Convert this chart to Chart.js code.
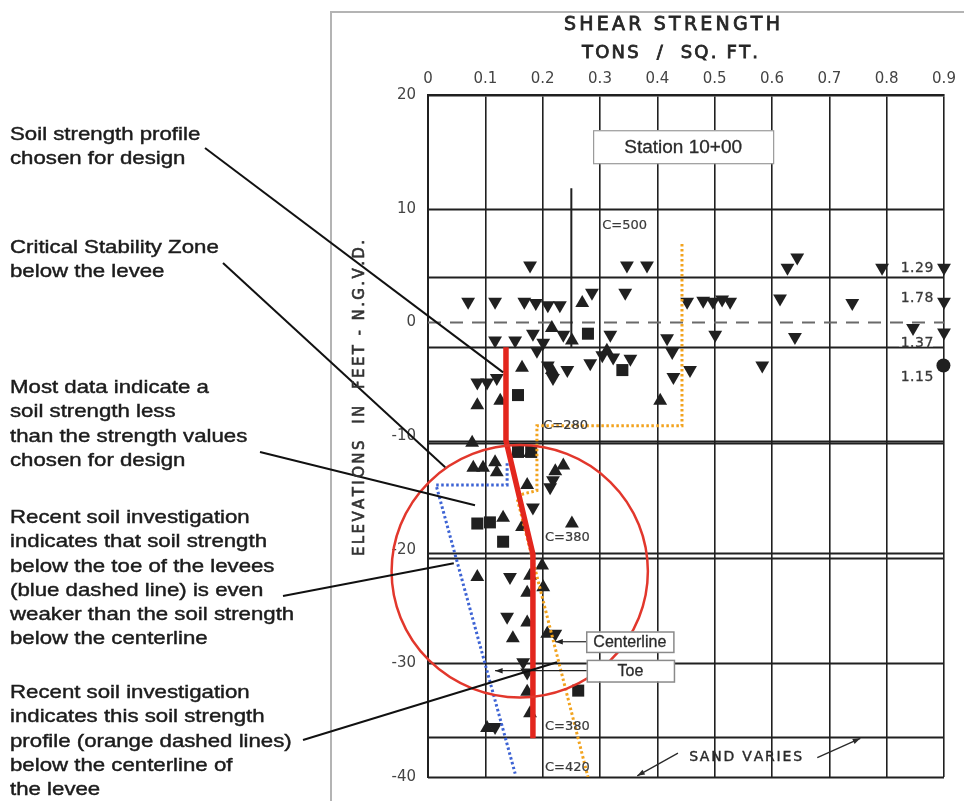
<!DOCTYPE html>
<html>
<head>
<meta charset="utf-8">
<title>Shear Strength - Station 10+00</title>
<script src="https://cdn.jsdelivr.net/npm/chart.js@4.4.1/dist/chart.umd.min.js"></script>
<style>
  html, body { margin: 0; padding: 0; background: #ffffff; }
  #wrap { position: relative; width: 964px; height: 801px; }
</style>
</head>
<body>
<div id="wrap"><canvas id="chart" width="964" height="801"></canvas></div>
<script>
// ---- axis ticks ----
const xTickValues = [0, 0.1, 0.2, 0.3, 0.4, 0.5, 0.6, 0.7, 0.8, 0.9];
const xTickLabels = ['0', '0.1', '0.2', '0.3', '0.4', '0.5', '0.6', '0.7', '0.8', '0.9'];
const yTickValues = [20, 10, 0, -10, -20, -30, -40];
const yTickLabels = ['20', '10', '0', '-10', '-20', '-30', '-40'];

// ---- test results: [shear strength (tons/sq ft), elevation (ft)] ----
const downTriangles = [
  [0.178, 5.0], [0.070, 1.8], [0.117, 1.8], [0.168, 1.8], [0.188, 1.7], [0.209, 1.5], [0.230, 1.5],
  [0.286, 2.6], [0.344, 2.6], [0.347, 5.0], [0.382, 5.0], [0.452, 1.8], [0.480, 1.9], [0.497, 1.8],
  [0.513, 2.0], [0.527, 1.8], [0.614, 2.1], [0.627, 4.8], [0.644, 5.7], [0.740, 1.7], [0.792, 4.8],
  [0.900, 4.8], [0.900, 1.8], [0.846, -0.5], [0.900, -0.9], [0.117, -1.6], [0.152, -1.6], [0.183, -1.0],
  [0.201, -1.8], [0.236, -1.1], [0.318, -1.1], [0.417, -1.4], [0.426, -2.6], [0.501, -1.1], [0.640, -1.3],
  [0.283, -3.6], [0.304, -2.9], [0.323, -3.1], [0.353, -3.2], [0.218, -4.9], [0.243, -4.2], [0.209, -3.8],
  [0.190, -2.5], [0.428, -4.8], [0.457, -4.2], [0.583, -3.8], [0.086, -5.3], [0.103, -5.3], [0.120, -4.9],
  [0.218, -13.9], [0.213, -14.5], [0.183, -16.3], [0.143, -22.4], [0.138, -25.9], [0.222, -27.4],
  [0.166, -29.9], [0.173, -30.8], [0.117, -35.6]
];
const upTriangles = [
  [0.269, 1.7], [0.216, -0.5], [0.251, -1.6], [0.312, -2.5], [0.216, -4.2], [0.164, -4.0], [0.126, -6.9],
  [0.086, -7.3], [0.405, -6.9], [0.077, -10.6], [0.178, -11.5], [0.079, -12.8], [0.096, -12.8],
  [0.117, -12.3], [0.120, -13.2], [0.236, -12.6], [0.222, -13.1], [0.173, -14.3], [0.131, -17.2],
  [0.164, -18.0], [0.251, -17.7], [0.199, -21.4], [0.178, -22.3], [0.086, -22.4], [0.173, -23.8],
  [0.201, -23.3], [0.173, -26.4], [0.148, -27.8], [0.208, -27.4], [0.173, -32.5], [0.178, -34.4],
  [0.103, -35.7]
];
const squares = [
  [0.279, -1.0], [0.339, -4.2], [0.157, -6.4], [0.157, -11.4], [0.180, -11.4], [0.086, -17.7],
  [0.108, -17.6], [0.131, -19.3], [0.262, -32.4]
];
const circles = [[0.899, -3.8]];

// ---- strength profiles ----
const designProfile = [[0.136, -2.2], [0.136, -10.4], [0.183, -20.4], [0.183, -36.6]];
const centerlineProfile = [[0.443, 6.9], [0.443, -9.1], [0.190, -9.1], [0.190, -14.8], [0.166, -15.1], [0.155, -15.4], [0.279, -40.0]];
const toeProfile = [[0.138, -12.4], [0.138, -14.3], [0.014, -14.3], [0.152, -39.7]];
const testLine = [[0.25, 11.8], [0.25, -2.2]];

// ---- soil layer boundaries and water level (ft) ----
const strataElevations = [10, 3.96, -2.2, -10.4, -10.65, -20.3, -20.7, -30, -36.5, -40];
const waterLevel = 0;

// ---- off-scale strengths listed at the right edge ----
const offScaleValues = ['1.29', '1.78', '1.37', '1.15'];
const offScaleElevations = [4.75, 2.1, -1.85, -4.85];

// ---- cohesion notes ----
const cohesionNotes = ['C=500', 'C=280', 'C=380', 'C=380', 'C=420'];
const cohesionAnchors = [[0.304, 8.5], [0.201, -9.06], [0.204, -18.9], [0.204, -35.6], [0.204, -39.2]];

// ---- critical stability zone (center strength, center elevation) ----
const zoneCenter = [0.160, -21.9];
const zoneRadiusX = 0.2235;   // tons/sq ft
const zoneRadiusY = 11.1;     // ft

const toXY = arr => arr.map(p => ({ x: p[0], y: p[1] }));

const INK = '#202020';
const LETTER_FONT = '"DejaVu Sans", sans-serif';
const NOTE_FONT = '"Liberation Sans", Arial, sans-serif';

// text drawn with a fine outline so hand-lettered strokes read heavier
function heavyFill(ctx, text, x, y, weight) {
  ctx.fillText(text, x, y);
  if (weight > 0) {
    ctx.lineWidth = weight;
    ctx.strokeStyle = ctx.fillStyle;
    ctx.strokeText(text, x, y);
  }
}

function spacedText(ctx, text, cx, cy, spacing, weight) {
  let total = 0;
  const widths = [];
  for (const ch of text) { const w = ctx.measureText(ch).width; widths.push(w); total += w + spacing; }
  total -= spacing;
  let x = cx - total / 2;
  let i = 0;
  ctx.textAlign = 'left';
  for (const ch of text) { heavyFill(ctx, ch, x, cy, weight || 0); x += widths[i++] + spacing; }
}

function stretchedText(ctx, text, x, y, sx, weight) {
  ctx.save();
  ctx.translate(x, y);
  ctx.scale(sx, 1);
  heavyFill(ctx, text, 0, 0, weight || 0);
  ctx.restore();
}

function arrow(ctx, x1, y1, x2, y2, head) {
  ctx.beginPath();
  ctx.moveTo(x1, y1);
  ctx.lineTo(x2, y2);
  ctx.stroke();
  const a = Math.atan2(y2 - y1, x2 - x1);
  ctx.beginPath();
  ctx.moveTo(x2, y2);
  ctx.lineTo(x2 - head * Math.cos(a - 0.35), y2 - head * Math.sin(a - 0.35));
  ctx.lineTo(x2 - head * Math.cos(a + 0.35), y2 - head * Math.sin(a + 0.35));
  ctx.closePath();
  ctx.fill();
}

// background grid work: panel frame, layer boundaries, water line
const layerPlugin = {
  id: 'layers',
  beforeDraw(chart) {
    const ctx = chart.ctx;
    ctx.save();
    ctx.fillStyle = '#ffffff';
    ctx.fillRect(0, 0, chart.width, chart.height);
    ctx.strokeStyle = '#b4b4b4';
    ctx.lineWidth = 2;
    ctx.beginPath();
    ctx.moveTo(331, chart.height);
    ctx.lineTo(331, 12);
    ctx.lineTo(chart.width, 12);
    ctx.stroke();
    ctx.restore();
  },
  beforeDatasetsDraw(chart) {
    const ctx = chart.ctx;
    const xs = chart.scales.x, ys = chart.scales.y;
    const x0 = xs.getPixelForValue(0), x1 = xs.getPixelForValue(0.9);
    ctx.save();
    ctx.strokeStyle = INK;
    ctx.lineWidth = 2;
    strataElevations.forEach(e => {
      const y = Math.round(ys.getPixelForValue(e)) + 0.5;
      ctx.beginPath();
      ctx.moveTo(x0, y);
      ctx.lineTo(x1, y);
      ctx.stroke();
    });
    const yw = Math.round(ys.getPixelForValue(waterLevel)) + 0.5;
    ctx.strokeStyle = '#6a6a6a';
    ctx.lineWidth = 2;
    ctx.setLineDash([13, 9]);
    ctx.beginPath();
    ctx.moveTo(x0, yw);
    ctx.lineTo(x1, yw);
    ctx.stroke();
    ctx.restore();
  }
};

// notes, leaders, zone outline and titles
const notesPlugin = {
  id: 'notes',
  afterDatasetsDraw(chart) {
    const ctx = chart.ctx;
    const xs = chart.scales.x, ys = chart.scales.y;
    const px = v => xs.getPixelForValue(v);
    const py = v => ys.getPixelForValue(v);
    ctx.save();

    // critical stability zone
    ctx.strokeStyle = '#e2372c';
    ctx.lineWidth = 2.5;
    ctx.beginPath();
    const cx = px(zoneCenter[0]), cy = py(zoneCenter[1]);
    const rx = px(zoneCenter[0] + zoneRadiusX) - cx;
    const ry = py(zoneCenter[1] - zoneRadiusY) - cy;
    ctx.ellipse(cx, cy, rx, ry, 0, 0, Math.PI * 2);
    ctx.stroke();

    // off-scale values
    ctx.font = '14px ' + LETTER_FONT;
    ctx.textBaseline = 'middle';
    offScaleValues.forEach((t, i) => {
      const y = py(offScaleElevations[i]);
      const x = px(0.853);
      if (t === '1.37') {
        ctx.fillStyle = '#ffffff';
        ctx.fillRect(x - 18, y - 7, 34, 10);
      }
      ctx.fillStyle = '#3a3a3a';
      spacedText(ctx, t, x, y, 0.5, 0.3);
    });

    // cohesion notes
    ctx.font = '13px ' + LETTER_FONT;
    ctx.fillStyle = '#3a3a3a';
    cohesionNotes.forEach((t, i) => {
      const a = cohesionAnchors[i];
      ctx.textAlign = 'left';
      heavyFill(ctx, t, px(a[0]), py(a[1]), 0.2);
    });

    // sand note
    ctx.font = '14px ' + LETTER_FONT;
    ctx.fillStyle = '#2a2a2a';
    spacedText(ctx, 'SAND VARIES', px(0.554), py(-38.3), 1.8, 0.4);
    ctx.strokeStyle = '#2a2a2a';
    ctx.fillStyle = '#2a2a2a';
    ctx.lineWidth = 1.3;
    arrow(ctx, px(0.436), py(-37.9), px(0.365), py(-39.9), 8);
    arrow(ctx, px(0.679), py(-38.3), px(0.754), py(-36.6), 8);

    // station label
    ctx.lineWidth = 1.2;
    ctx.strokeStyle = '#9a9a9a';
    ctx.fillStyle = '#ffffff';
    let bx = px(0.288), by = py(16.9), bw = px(0.602) - bx, bh = py(14.0) - by;
    ctx.fillRect(bx, by, bw, bh);
    ctx.strokeRect(bx + 0.5, by + 0.5, bw, bh);
    ctx.fillStyle = '#2b2b2b';
    ctx.font = '19px ' + NOTE_FONT;
    ctx.textAlign = 'center';
    heavyFill(ctx, 'Station 10+00', bx + bw / 2, by + bh / 2 + 1, 0.3);

    // centerline / toe tags
    const tags = [
      { text: 'Centerline', l: 0.276, t: -27.2, r: 0.428, b: -29.0, to: [0.222, -28.1] },
      { text: 'Toe', l: 0.277, t: -29.7, r: 0.429, b: -31.6, to: [0.117, -30.6] }
    ];
    tags.forEach(g => {
      const l = px(g.l), t = py(g.t), w = px(g.r) - l, h = py(g.b) - t;
      ctx.strokeStyle = '#222';
      ctx.fillStyle = '#222';
      ctx.lineWidth = 1.2;
      arrow(ctx, l, t + h / 2, px(g.to[0]), t + h / 2, 8);
      ctx.fillStyle = '#ffffff';
      ctx.fillRect(l, t, w, h);
      ctx.strokeStyle = '#8a8a8a';
      ctx.lineWidth = 1.5;
      ctx.strokeRect(l + 0.5, t + 0.5, w, h);
      ctx.fillStyle = '#2b2b2b';
      ctx.font = '16px ' + NOTE_FONT;
      ctx.textAlign = 'center';
      ctx.textBaseline = 'middle';
      heavyFill(ctx, g.text, l + w / 2, t + h / 2 + 1, 0.3);
    });

    // side notes and their leaders
    const notes = [
      { lines: ['Soil strength profile', 'chosen for design'], y: 135, from: [205, 148], to: [0.131, -4.4] },
      { lines: ['Critical Stability Zone', 'below the levee'], y: 248, from: [223, 263], to: [0.030, -12.75] },
      { lines: ['Most data indicate a', 'soil strength less', 'than the strength values', 'chosen for design'], y: 388, from: [260, 452], to: [0.082, -16.1] },
      { lines: ['Recent soil investigation', 'indicates that soil strength', 'below the toe of the levees', '(blue dashed line) is even', 'weaker than the soil strength', 'below the centerline'], y: 518, from: [283, 596], to: [0.045, -21.2] },
      { lines: ['Recent soil investigation', 'indicates this soil strength', 'profile (orange dashed lines)', 'below the centerline of', 'the levee'], y: 693, from: [303, 740], to: [0.225, -29.9] }
    ];
    ctx.font = '19px ' + NOTE_FONT;
    ctx.textAlign = 'left';
    ctx.textBaseline = 'middle';
    notes.forEach(n => {
      ctx.fillStyle = '#1c1c1c';
      n.lines.forEach((ln, i) => stretchedText(ctx, ln, 10, n.y + i * 24.2, 1.17, 0.45));
      ctx.strokeStyle = '#111';
      ctx.lineWidth = 2;
      ctx.beginPath();
      ctx.moveTo(n.from[0], n.from[1]);
      ctx.lineTo(px(n.to[0]), py(n.to[1]));
      ctx.stroke();
    });

    // chart titles
    ctx.fillStyle = '#262626';
    ctx.font = '19px ' + LETTER_FONT;
    ctx.textBaseline = 'middle';
    spacedText(ctx, 'SHEAR STRENGTH', 672, 25, 3.2, 0.8);
    ctx.font = '18px ' + LETTER_FONT;
    spacedText(ctx, 'TONS  /  SQ. FT.', 670, 53, 2.2, 0.8);

    // elevation axis title
    ctx.save();
    ctx.translate(360, 398);
    ctx.rotate(-Math.PI / 2);
    ctx.font = '15px ' + LETTER_FONT;
    ctx.fillStyle = '#333333';
    spacedText(ctx, 'ELEVATIONS  IN  FEET - N.G.V.D.', 0, 0, 2.4, 0.6);
    ctx.restore();

    ctx.restore();
  }
};

const markerBase = { showLine: false, clip: false, borderWidth: 0, pointHoverRadius: 0 };

const chart = new Chart(document.getElementById('chart'), {
  type: 'scatter',
  data: {
    datasets: [
      { label: 'Design profile', data: toXY(designProfile), showLine: true, borderColor: '#e3261d', borderWidth: 5.5, pointRadius: 0, order: 0 },
      { label: 'Centerline profile', data: toXY(centerlineProfile), showLine: true, borderColor: '#f2a31e', borderWidth: 3, borderDash: [2.5, 2.5], pointRadius: 0, order: 1 },
      { label: 'Toe profile', data: toXY(toeProfile), showLine: true, borderColor: '#3d63d4', borderWidth: 3, borderDash: [2.5, 2.5], pointRadius: 0, order: 2 },
      { label: 'Test line', data: toXY(testLine), showLine: true, borderColor: INK, borderWidth: 2, pointRadius: 0, order: 3 },
      Object.assign({ label: 'Down triangles', data: toXY(downTriangles), pointStyle: 'triangle', pointRotation: 180, pointRadius: 8, backgroundColor: INK, order: 4 }, markerBase),
      Object.assign({ label: 'Up triangles', data: toXY(upTriangles), pointStyle: 'triangle', pointRotation: 0, pointRadius: 8, backgroundColor: INK, order: 5 }, markerBase),
      Object.assign({ label: 'Squares', data: toXY(squares), pointStyle: 'rect', pointRadius: 8.5, backgroundColor: INK, order: 6 }, markerBase),
      Object.assign({ label: 'Circles', data: toXY(circles), pointStyle: 'circle', pointRadius: 7, backgroundColor: INK, order: 7 }, markerBase)
    ]
  },
  options: {
    responsive: false,
    animation: false,
    events: [],
    devicePixelRatio: 1,
    layout: { autoPadding: false, padding: { left: 345, right: 20, top: 0, bottom: 24 } },
    plugins: { legend: { display: false }, tooltip: { enabled: false }, title: { display: false } },
    scales: {
      x: {
        type: 'linear',
        position: 'top',
        min: 0,
        max: 0.9,
        afterBuildTicks: axis => { axis.ticks = xTickValues.map(v => ({ value: v })); },
        afterFit: axis => { axis.height = 95; axis.paddingLeft = 0; axis.paddingRight = 0; },
        ticks: {
          autoSkip: false,
          maxRotation: 0,
          padding: 7,
          color: '#444444',
          font: { family: 'DejaVu Sans', size: 15 },
          callback: (v, i) => xTickLabels[i]
        },
        grid: { color: INK, lineWidth: 1.6, drawTicks: false },
        border: { display: true, color: INK, width: 2.5 }
      },
      y: {
        type: 'linear',
        min: -40,
        max: 20,
        afterBuildTicks: axis => { axis.ticks = yTickValues.map(v => ({ value: v })); },
        afterFit: axis => { axis.width = 83; axis.paddingTop = 0; axis.paddingBottom = 0; },
        ticks: {
          autoSkip: false,
          padding: 12,
          color: '#444444',
          font: { family: 'DejaVu Sans', size: 15 },
          callback: (v, i) => yTickLabels[i]
        },
        grid: { display: true, drawOnChartArea: false, drawTicks: false },
        border: { display: true, color: INK, width: 2 }
      }
    }
  },
  plugins: [layerPlugin, notesPlugin]
});
</script>
</body>
</html>
